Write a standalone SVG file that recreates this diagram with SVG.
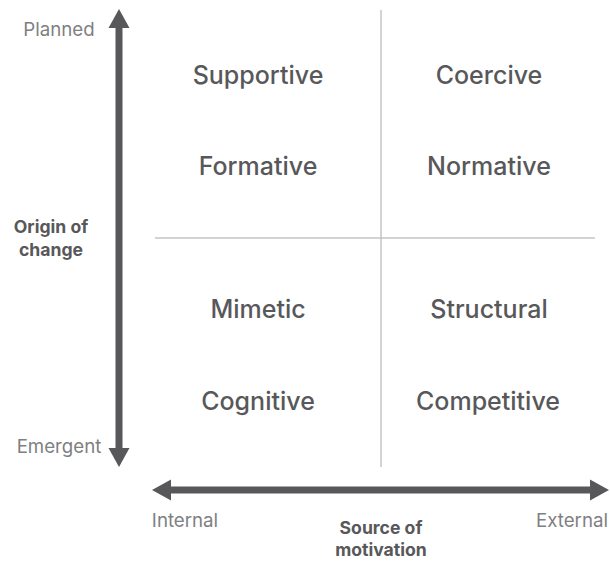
<svg xmlns="http://www.w3.org/2000/svg" width="610" height="561" viewBox="0 0 610 561">
<style>
.q{font-family:Inter,"Liberation Sans",Arial,sans-serif;font-weight:500;font-size:25px;fill:#58585a;text-anchor:middle}
.lab{font-family:Inter,"Liberation Sans",Arial,sans-serif;font-size:18.7px;fill:#808082;text-anchor:middle}
.ax{font-family:Inter,"Liberation Sans",Arial,sans-serif;font-weight:700;font-size:17.6px;fill:#58585a;text-anchor:middle}
.grid{stroke:#c4c4c4;stroke-width:1.5;fill:none}
.arr{fill:#58585a}
</style>
<rect width="610" height="561" fill="#ffffff"/>
<g id="connectors">
<line class="grid" x1="381" y1="10" x2="381" y2="467"/>
<line class="grid" x1="155" y1="238" x2="595" y2="238"/>
<g id="vertical-axis">
<rect class="arr" x="115.5" y="26" width="7" height="424"/>
<polygon class="arr" points="119,9 129.5,28 108.5,28"/>
<polygon class="arr" points="119,467 129.5,448 108.5,448"/>
</g>
<g id="horizontal-axis">
<rect class="arr" x="169" y="486.5" width="425" height="7"/>
<polygon class="arr" points="152,490 171,479.5 171,500.5"/>
<polygon class="arr" points="609,490 590,479.5 590,500.5"/>
</g>
</g>
<g id="supportive"><text class="q" x="258" y="84">Supportive</text></g>
<g id="coercive"><text class="q" x="489" y="84">Coercive</text></g>
<g id="formative"><text class="q" x="258" y="175">Formative</text></g>
<g id="normative"><text class="q" x="489" y="175">Normative</text></g>
<g id="mimetic"><text class="q" x="258" y="318">Mimetic</text></g>
<g id="structural"><text class="q" x="489" y="318">Structural</text></g>
<g id="cognitive"><text class="q" x="258" y="410">Cognitive</text></g>
<g id="competitive"><text class="q" x="488" y="410">Competitive</text></g>
<g id="planned"><text class="lab" x="59" y="36">Planned</text></g>
<g id="emergent"><text class="lab" x="59" y="453">Emergent</text></g>
<g id="origin"><text class="ax" x="51" y="233">Origin of</text><text class="ax" x="51" y="256">change</text></g>
<g id="internal"><text class="lab" x="185" y="527">Internal</text></g>
<g id="external"><text class="lab" x="572" y="527">External</text></g>
<g id="source"><text class="ax" x="381" y="534">Source of</text><text class="ax" x="381" y="556">motivation</text></g>
</svg>
